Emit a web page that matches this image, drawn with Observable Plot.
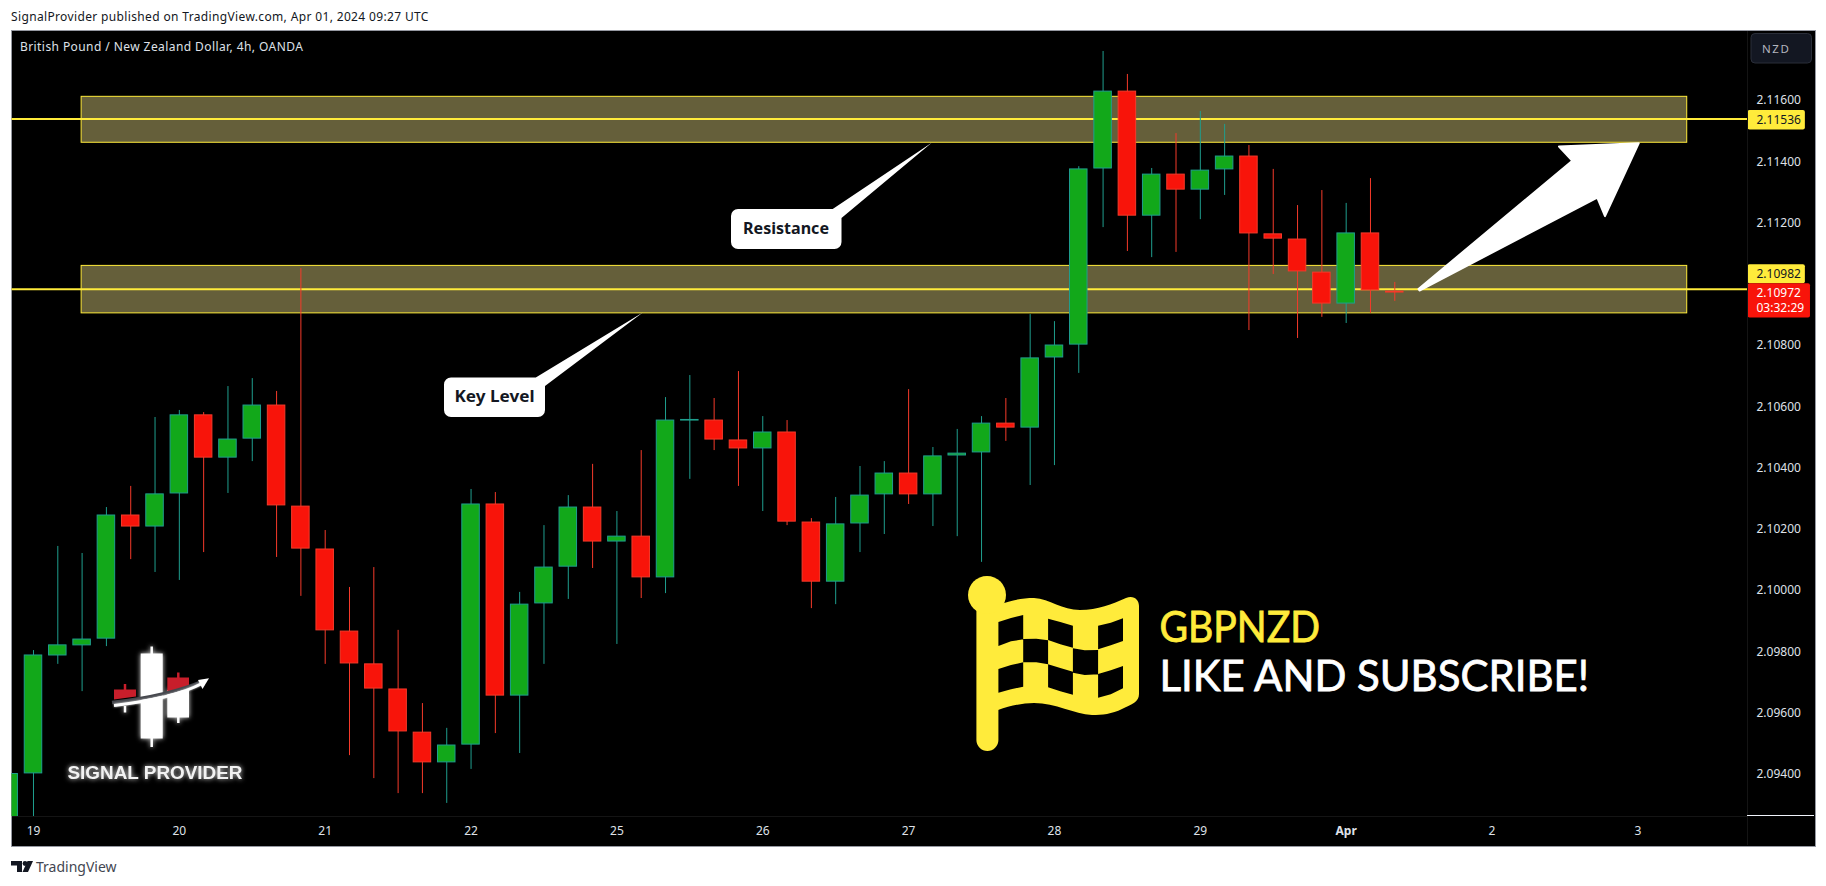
<!DOCTYPE html>
<html><head><meta charset="utf-8">
<script src="https://cdn.jsdelivr.net/npm/d3@7"></script>
<script src="https://cdn.jsdelivr.net/npm/@observablehq/plot@0.6"></script>
<style>
html,body{margin:0;padding:0;background:#fff;width:1826px;height:886px;overflow:hidden;font-family:"Noto Sans",sans-serif}
#published{position:absolute;left:11px;top:8px;font-size:12px;line-height:17px;color:#131722;white-space:nowrap;letter-spacing:.355px}
#pane{position:absolute;left:11px;top:30px;width:1803px;height:815px;background:#000;border:1px solid #9598a1}
#chart{position:absolute;left:0;top:0}
#chart svg{display:block;background:transparent}
#footer{position:absolute;left:36px;top:857px;font-size:14px;line-height:20px;color:#434651;white-space:nowrap}
</style></head>
<body>
<div id="published">SignalProvider published on TradingView.com, Apr 01, 2024 09:27 UTC</div>
<div id="pane"></div>
<div id="chart"></div>
<div id="footer">TradingView</div>
<script>
const opens  = [2.09217,2.09403,2.09788,2.09821,2.09843,2.10245,2.10209,2.10317,2.10572,2.10434,2.10496,2.10604,2.10274,2.10134,2.09866,2.09759,2.09677,2.09536,2.09439,2.09497,2.10281,2.09657,2.09958,2.10078,2.10271,2.10160,2.10176,2.10043,2.10555,2.10555,2.10490,2.10464,2.10516,2.10222,2.10029,2.10219,2.10314,2.10382,2.10314,2.10441,2.10451,2.10545,2.10532,2.10761,2.10803,2.11378,2.11629,2.11224,2.11358,2.11309,2.11375,2.11417,2.11163,2.11146,2.11038,2.10937,2.11166,2.10976];
const closes = [2.09401,2.09788,2.09821,2.09840,2.10245,2.10209,2.10314,2.10572,2.10434,2.10493,2.10604,2.10278,2.10137,2.09870,2.09762,2.09680,2.09540,2.09439,2.09494,2.10281,2.09657,2.09954,2.10075,2.10271,2.10160,2.10176,2.10043,2.10555,2.10557,2.10493,2.10464,2.10516,2.10225,2.10029,2.10216,2.10310,2.10382,2.10314,2.10438,2.10447,2.10545,2.10532,2.10758,2.10800,2.11375,2.11629,2.11224,2.11358,2.11309,2.11371,2.11417,2.11166,2.11149,2.11042,2.10937,2.11166,2.10980,2.10973];
const highs  = [2.09450,2.09804,2.10144,2.10121,2.10271,2.10340,2.10565,2.10588,2.10581,2.10666,2.10692,2.10650,2.11051,2.10196,2.10010,2.10075,2.09870,2.09631,2.09550,2.10330,2.10320,2.09994,2.10212,2.10310,2.10412,2.10258,2.10457,2.10630,2.10702,2.10627,2.10715,2.10568,2.10555,2.10235,2.10304,2.10405,2.10421,2.10656,2.10467,2.10526,2.10568,2.10627,2.10901,2.10878,2.11384,2.11760,2.11685,2.11378,2.11492,2.11564,2.11522,2.11453,2.11375,2.11257,2.11306,2.11264,2.11345,2.11006];
const lows   = [2.09150,2.09262,2.09759,2.09670,2.09817,2.10101,2.10059,2.10033,2.10124,2.10317,2.10421,2.10108,2.09981,2.09759,2.09461,2.09386,2.09337,2.09337,2.09305,2.09416,2.09533,2.09468,2.09759,2.09971,2.10072,2.09824,2.09974,2.09990,2.10363,2.10457,2.10340,2.10258,2.10212,2.09941,2.09954,2.10124,2.10183,2.10281,2.10209,2.10176,2.10092,2.10487,2.10343,2.10408,2.10709,2.11185,2.11107,2.11087,2.11104,2.11211,2.11290,2.10849,2.11032,2.10823,2.10892,2.10872,2.10905,2.10944];
const firstBar = -1;

const priceTicks = [2.116,2.114,2.112,2.108,2.106,2.104,2.102,2.100,2.098,2.096,2.094];
const dayTicks   = [0,6,12,18,24,30,36,42,48,60,66];
const dayLabels  = ["19","20","21","22","25","26","27","28","29","2","3"];
const monthTick  = [54];
const monthLabel = ["Apr"];

const zoneTops    = [2.11612,2.11060];
const zoneBottoms = [2.11462,2.10905];
const levels      = [2.11540,2.10984];
const zoneStart = 1.98, zoneEnd = 68.03;

const GREEN="#12a81a", GREENLINE="#1f9e8e", RED="#f8140a", REDLINE="#f53a2a", YELLOW="#ffeb3b", AXISTEXT="#dfe1e8";

const candles = opens.map((o,k)=>({i:k+firstBar,o,c:closes[k],h:highs[k],l:lows[k],up:closes[k]>=o}));
const zones = zoneTops.map((t,k)=>({t,b:zoneBottoms[k]}));

// Price tags on the axis
const tagLeft = 70.53, tagRight = 72.89, redRight = 73.1, tagTextX = 70.88;
const tags = [
  {hi:2.11567,lo:2.11504,at:2.115355,text:"2.11536",fill:YELLOW,ink:"#131722",right:tagRight},
  {hi:2.11064,lo:2.11002,at:2.11033,text:"2.10982",fill:YELLOW,ink:"#131722",right:tagRight},
  {hi:2.11002,lo:2.10890,at:2.10970,text:"2.10972",fill:RED,ink:"#ffffff",right:redRight},
];
const countdown = [{at:2.10922,text:"03:32:29"}];

function overlay(){
  const g = d3.create("svg:g").attr("text-anchor","start");
  const fx=x=>+(950+x/2.376).toFixed(1), fy=y=>+(560+y/3).toFixed(1);
  const P=(pts)=>"M"+pts.map(([x,y])=>fx(x)+" "+fy(y)).join("L")+"Z";
  const holes=[
    [[115,186],[145,174],[174,165],[174,238],[145,244],[115,258]],
    [[233,176],[262,186],[292,197],[292,263],[262,253],[233,240]],
    [[352,197],[382,188],[411,175],[411,243],[382,256],[352,268]],
    [[174,237],[205,236],[233,241],[233,313],[205,307],[174,307]],
    [[292,265],[320,271],[352,270],[352,343],[320,345],[292,338]],
    [[115,327],[145,315],[174,307],[174,380],[145,388],[115,398]],
    [[233,313],[262,324],[292,335],[292,404],[262,394],[233,382]],
    [[352,342],[382,331],[411,318],[411,385],[382,403],[352,413]],
  ].map(P).join("");
  g.html(`
  <!-- pane separators -->
  <line x1="1747.500" y1="31" x2="1747.500" y2="845" stroke="#141414"/>
  <line x1="12" y1="816.500" x2="1747" y2="816.500" stroke="#141414"/>
  <line x1="1747" y1="815.500" x2="1814" y2="815.500" stroke="#f0f3fa"/>
  <!-- TradingView mark -->
  <g fill="#131722"><path d="M11 861h11v11h-5v-6.500h-6z"/><circle cx="25" cy="863.500" r="2.400"/><path d="M33 861L28 872H22.500L27.500 861z"/></g>
  <!-- NZD button -->
  <rect x="1751" y="33.500" width="60.500" height="29.500" rx="4" fill="#131722" stroke="#2a2e39"/>
  <text x="1762" y="53" font-size="11.500" fill="#b2b5be" letter-spacing="1.600" font-family="Noto Sans">NZD</text>
  <!-- callouts -->
  <path d="M832.700 209L931.700 142.700L841.500 218L841.500 242a7 7 0 0 1-7 7H738a7 7 0 0 1-7-7V216a7 7 0 0 1 7-7z" fill="#fff"/>
  <text x="786" y="234" font-size="16.500" font-weight="700" text-anchor="middle" fill="#131722" font-family="Noto Sans" textLength="86" lengthAdjust="spacingAndGlyphs">Resistance</text>
  <path d="M535.800 377.500L642.800 312.500L545 386L545 410a7 7 0 0 1-7 7H451a7 7 0 0 1-7-7V384.500a7 7 0 0 1 7-7z" fill="#fff"/>
  <text x="494.500" y="402" font-size="16.500" font-weight="700" text-anchor="middle" fill="#131722" font-family="Noto Sans" textLength="80" lengthAdjust="spacingAndGlyphs">Key Level</text>
  <!-- arrow -->
  <path d="M1418.500 289L1572.300 160.700L1559 146.500L1638.800 143.200L1605 216.200L1597.300 197.700L1419.500 290.500Z" fill="#fff" stroke="#fff" stroke-width="2" stroke-linejoin="round"/>
  <!-- flag -->
  <line x1="987.400" y1="600" x2="987.400" y2="740" stroke="${YELLOW}" stroke-width="22" stroke-linecap="round"/>
  <circle cx="987" cy="595" r="19" fill="${YELLOW}"/>
  <path d="M998 605C1012 600 1022 598 1034 598C1050 599 1062 610 1080 610C1098 610 1112 604 1126 598C1134 595 1139 600 1139 606V694C1139 702 1132 704 1122 709C1112 714 1102 715 1092 715C1074 714 1056 703 1034 703C1022 703 1010 706 998 710Z" fill="${YELLOW}"/>
  <path d="${holes}" fill="#000"/>
  <text x="1159.500" y="641.500" font-size="42" fill="${YELLOW}" stroke="${YELLOW}" stroke-width=".8" font-family="Lato" textLength="160.500" lengthAdjust="spacingAndGlyphs">GBPNZD</text>
  <text x="1159.500" y="690.500" font-size="42" fill="#fff" stroke="#fff" stroke-width=".8" font-family="Lato" textLength="429.500" lengthAdjust="spacingAndGlyphs">LIKE AND SUBSCRIBE!</text>
  <!-- logo -->
  <g style="filter:drop-shadow(0 0 2.500px rgba(255,255,255,.9))">
    <g stroke="#fff" stroke-width="2.500"><line x1="151.700" y1="646.500" x2="151.700" y2="654"/><line x1="151.700" y1="738" x2="151.700" y2="747"/><line x1="178.300" y1="717" x2="178.300" y2="723"/><line x1="125" y1="706" x2="125" y2="712.500"/></g>
    <rect x="140.700" y="653.500" width="22" height="85" fill="#fff"/>
    <rect x="167.300" y="690" width="21.700" height="27.500" fill="#fff"/>
  </g>
  <g stroke="#c81e2b" stroke-width="2.500"><line x1="178.300" y1="672.500" x2="178.300" y2="678"/><line x1="125" y1="684" x2="125" y2="690"/></g>
  <path d="M167.300 677.500H189V687L167.300 691.700Z" fill="#c81e2b"/>
  <path d="M114 689.500H136V696.500L114 699.500Z" fill="#c81e2b"/>
  <path d="M112 702.500C150 698 178 692 203 681" fill="none" stroke="#45474d" stroke-width="3.500"/>
  <path d="M114 705.500C152 701 180 695 203 683" fill="none" stroke="#fff" stroke-width="3" style="filter:drop-shadow(0 0 1px rgba(255,255,255,.8))"/>
  <path d="M198 680L209 678.300L202.500 689Z" fill="#fff"/>
  <text x="67.500" y="778.500" font-size="18" font-weight="700" fill="#f2f2f2" font-family="Liberation Sans" textLength="175" lengthAdjust="spacingAndGlyphs" style="filter:drop-shadow(0 0 2.500px rgba(255,255,255,.85))">SIGNAL PROVIDER</text>
  <text x="20" y="51" font-size="12" fill="${AXISTEXT}" font-family="Noto Sans" letter-spacing=".42">British Pound / New Zealand Dollar, 4h, OANDA</text>
  `);
  return g.node();
}

const plot = Plot.plot({
  width:1826, height:886,
  marginLeft:11.5, marginRight:78.5, marginTop:31, marginBottom:70,
  style:{background:"transparent",fontFamily:"Noto Sans",fontSize:"12px"},
  x:{type:"linear",domain:[-0.884,70.53],axis:null},
  y:{type:"linear",domain:[2.0926226,2.1182529],axis:null},
  marks:[
    Plot.rect(zones,{x1:()=>zoneStart,x2:()=>zoneEnd,y1:"b",y2:"t",fill:"#655f3a",stroke:YELLOW,strokeWidth:1}),
    Plot.ruleY(levels,{stroke:YELLOW,strokeWidth:2}),
    Plot.ruleX(candles,{x:"i",y1:"l",y2:"h",stroke:d=>d.up?GREENLINE:REDLINE,strokeWidth:1,clip:true}),
    Plot.rect(candles,{x1:d=>d.i-0.36,x2:d=>d.i+0.36,y1:"o",y2:"c",fill:d=>d.up?GREEN:RED,stroke:d=>d.up?GREENLINE:REDLINE,strokeWidth:1,clip:true}),
    Plot.axisY(priceTicks,{anchor:"right",tickSize:0,tickPadding:8.5,tickFormat:d=>d.toFixed(5),fontSize:12,fill:AXISTEXT,label:null}),
    Plot.axisX(dayTicks,{anchor:"bottom",tickSize:0,tickPadding:10,tickFormat:d=>dayLabels[dayTicks.indexOf(d)],fontSize:12,fill:AXISTEXT,label:null}),
    Plot.axisX(monthTick,{anchor:"bottom",tickSize:0,tickPadding:10,tickFormat:()=>monthLabel[0],fontSize:12,fontWeight:"bold",fill:AXISTEXT,label:null}),
    Plot.rect(tags,{x1:()=>tagLeft,x2:"right",y1:"lo",y2:"hi",fill:"fill",rx:2}),
    Plot.text(tags,{x:()=>tagTextX,y:"at",text:"text",fill:"ink",textAnchor:"start",fontSize:12}),
    Plot.text(countdown,{x:()=>tagTextX,y:"at",text:"text",fill:"#ffffff",textAnchor:"start",fontSize:12}),
    overlay,
  ]
});
document.getElementById("chart").append(plot);
</script>
</body></html>
